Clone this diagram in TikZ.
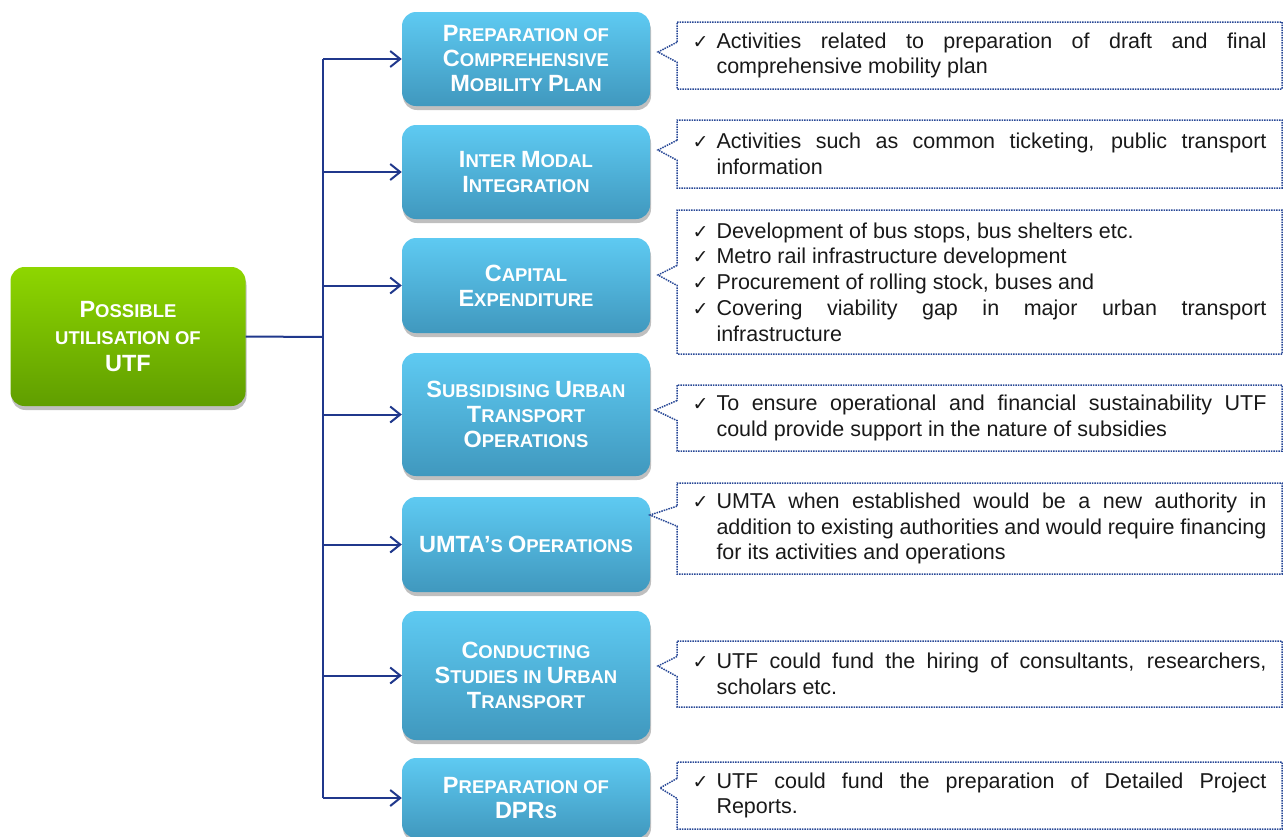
\documentclass[tikz,border=0pt]{standalone}
\usepackage{fontspec}
\setmainfont{Liberation Sans}
\newfontfamily\symfont{DejaVu Sans}
\usetikzlibrary{arrows.meta,shapes.callouts,shadows}

\definecolor{linkblue}{RGB}{32,56,140}
\definecolor{dotblue}{RGB}{40,72,150}
\definecolor{boxtop}{RGB}{94,202,242}
\definecolor{boxbot}{RGB}{64,152,190}
\definecolor{roottop}{RGB}{142,214,0}
\definecolor{rootbot}{RGB}{96,158,0}
\definecolor{notetext}{RGB}{25,25,25}

\newcommand\capl[1]{{\fontsize{23.5pt}{25pt}\selectfont #1}}
\newcommand\tick[1]{\hyphenpenalty=10000 \exhyphenpenalty=10000 \tolerance=9000
  \noindent\hangindent=24pt\hangafter=1\makebox[24pt][l]{\fontsize{19pt}{20pt}\symfont ✓}#1\par}

\tikzset{
  topic/.style={rounded corners=14pt, top color=boxtop, bottom color=boxbot,
    text=white, font=\fontsize{18.5pt}{25pt}\selectfont\bfseries, align=center,
    minimum width=248pt,
    drop shadow={shadow xshift=1pt, shadow yshift=-4pt, opacity=.25, fill=black}},
  rootbox/.style={topic, top color=roottop, bottom color=rootbot, minimum width=235pt,
    font=\fontsize{18.5pt}{27pt}\selectfont\bfseries},
  note/.style={rectangle callout, draw=dotblue, densely dotted, line width=1.5pt,
    text=notetext, text width=574pt, inner xsep=15.5pt, inner ysep=0pt,
    align=justify, font=\fontsize{21.5pt}{25.8pt}\selectfont,
    callout pointer width=20pt},
  link/.style={draw=linkblue, line width=2pt},
}

\begin{document}
\begin{tikzpicture}[x=1pt, y=-1pt, >={Straight Barb[length=10pt,width=16pt]}]
  \clip (0,0) rectangle (1288,836);

  \node[rootbox, minimum height=139pt] (root) at (128,336.5)
    {\capl{P}OSSIBLE\\UTILISATION OF\\\capl{UTF}};

  \node[topic, minimum height=94pt] (b1) at (526,59)
    {\capl{P}REPARATION OF\\\capl{C}OMPREHENSIVE\\\capl{M}OBILITY \capl{P}LAN};
  \node[topic, minimum height=94pt] (b2) at (526,172)
    {\capl{I}NTER \capl{M}ODAL\\\capl{I}NTEGRATION};
  \node[topic, minimum height=95pt] (b3) at (526,285.5)
    {\capl{C}APITAL\\\capl{E}XPENDITURE};
  \node[topic, minimum height=123pt] (b4) at (526,414.5)
    {\capl{S}UBSIDISING \capl{U}RBAN\\\capl{T}RANSPORT\\\capl{O}PERATIONS};
  \node[topic, minimum height=95pt] (b5) at (526,544.5)
    {\capl{UMTA’}S \capl{O}PERATIONS};
  \node[topic, minimum height=129pt] (b6) at (526,675.5)
    {\capl{C}ONDUCTING\\\capl{S}TUDIES IN \capl{U}RBAN\\\capl{T}RANSPORT};
  \node[topic, minimum height=80pt] (b7) at (526,798)
    {\capl{P}REPARATION OF\\\capl{DPR}S};

  % tree
  \coordinate (jn) at (323,337);
  \draw[link] (root.east) -- (jn);
  \draw[link] (b1.west -| jn) -- (b7.west -| jn);
  \foreach \i in {1,...,7}
    \draw[link,->] (b\i.west -| jn) -- (b\i.west);

  % notes
  \node[note, minimum height=67pt, callout absolute pointer={(658,52)}] (n1) at (979.5,55.5)
    {\tick{Activities related to preparation of draft and final comprehensive mobility plan}};
  \node[note, minimum height=68pt, callout absolute pointer={(658,150)}] (n2) at (979.5,154)
    {\tick{Activities such as common ticketing, public transport information}};
  \node[note, minimum height=144pt, callout absolute pointer={(658,275)}] (n3) at (979.5,282)
    {\tick{Development of bus stops, bus shelters etc.}
     \tick{Metro rail infrastructure development}
     \tick{Procurement of rolling stock, buses and}
     \tick{Covering viability gap in major urban transport infrastructure}};
  \node[note, minimum height=66pt, callout absolute pointer={(655,410)}] (n4) at (979.5,418)
    {\tick{To ensure operational and financial sustainability UTF could provide support in the nature of subsidies}};
  \node[note, minimum height=91pt, callout absolute pointer={(650,515)}] (n5) at (979.5,528.5)
    {\tick{UMTA when established would be a new authority in addition to existing authorities and would require financing for its activities and operations}};
  \node[note, minimum height=66pt, callout absolute pointer={(658,666)}] (n6) at (979.5,674)
    {\tick{UTF could fund the hiring of consultants, researchers, scholars etc.}};
  \node[note, minimum height=67pt, callout absolute pointer={(660,788)}] (n7) at (979.5,795.5)
    {\tick{UTF could fund the preparation of Detailed Project Reports.}};
\end{tikzpicture}
\end{document}
